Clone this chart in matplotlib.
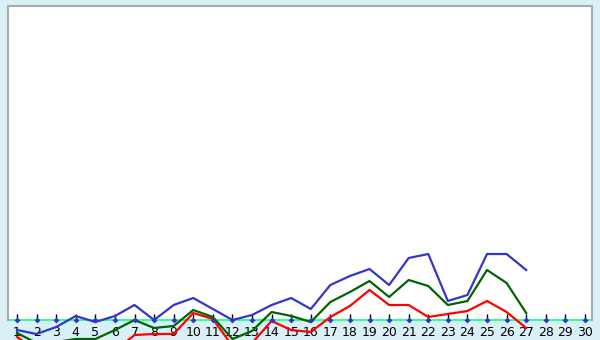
import matplotlib
matplotlib.use("Agg")
import matplotlib.pyplot as plt

days = list(range(1, 31))
tick_labels = [str(d) for d in days]

# values relative to the zero line
blue_vals = [-10, -14, -7, 4, -2, 4, 15, 0, 15, 22, 11, 0, 5, 15, 22, 11,
             35, 44, 51, 35, 62, 66, 19, 25, 66, 66, 50]
green_vals = [-13, -23, -22, -19, -19, -10, 0, -8, -6, 10, 3, -19, -11, 8, 4, -2,
              18, 28, 39, 23, 40, 34, 15, 19, 50, 37, 7]
red_vals = [-17, -30, -32, -30, -32, -31, -15, -14, -14, 7, 1, -26, -23, -1, -10, -12,
            3, 14, 30, 15, 15, 3, 6, 9, 19, 8, -8]

W, H = 600, 340
fig = plt.figure(figsize=(6, 3.4), dpi=100)
fig.patch.set_facecolor("#DAF0F7")
ax = fig.add_axes([8 / W, 20 / H, 584 / W, 314 / H])
ax.set_facecolor("white")
ax.set_xlim(0.54, 30.36)
ax.set_ylim(0, 314)

n = len(blue_vals)
xs = days[:n]
ax.plot(xs, red_vals, color="#FF0000", lw=1.6, clip_on=False, zorder=3)
ax.plot(xs, green_vals, color="#006400", lw=1.6, clip_on=False, zorder=4)
ax.plot(xs, blue_vals, color="#3535CC", lw=1.6, clip_on=False, zorder=5)

ax.axhline(0, color="#33FF99", lw=1.5, zorder=2, clip_on=False)
ax.scatter(days, [0] * len(days), s=9, marker="D", color="#3333CC",
           zorder=7, clip_on=False, linewidths=0)

for s in ["left", "top", "right"]:
    ax.spines[s].set_color("#AAAAAA")
    ax.spines[s].set_linewidth(1.5)
ax.spines["bottom"].set_visible(False)

ax.set_xticks(days)
ax.set_xticklabels(tick_labels, fontsize=9, color="black")
ax.tick_params(axis="x", direction="in", length=4.5, width=1, color="black", pad=4.5)
ax.set_yticks([])
for t in ax.xaxis.get_major_ticks():
    t.tick1line.set_zorder(6)

fig.savefig("out.png", dpi=100, facecolor=fig.get_facecolor())
